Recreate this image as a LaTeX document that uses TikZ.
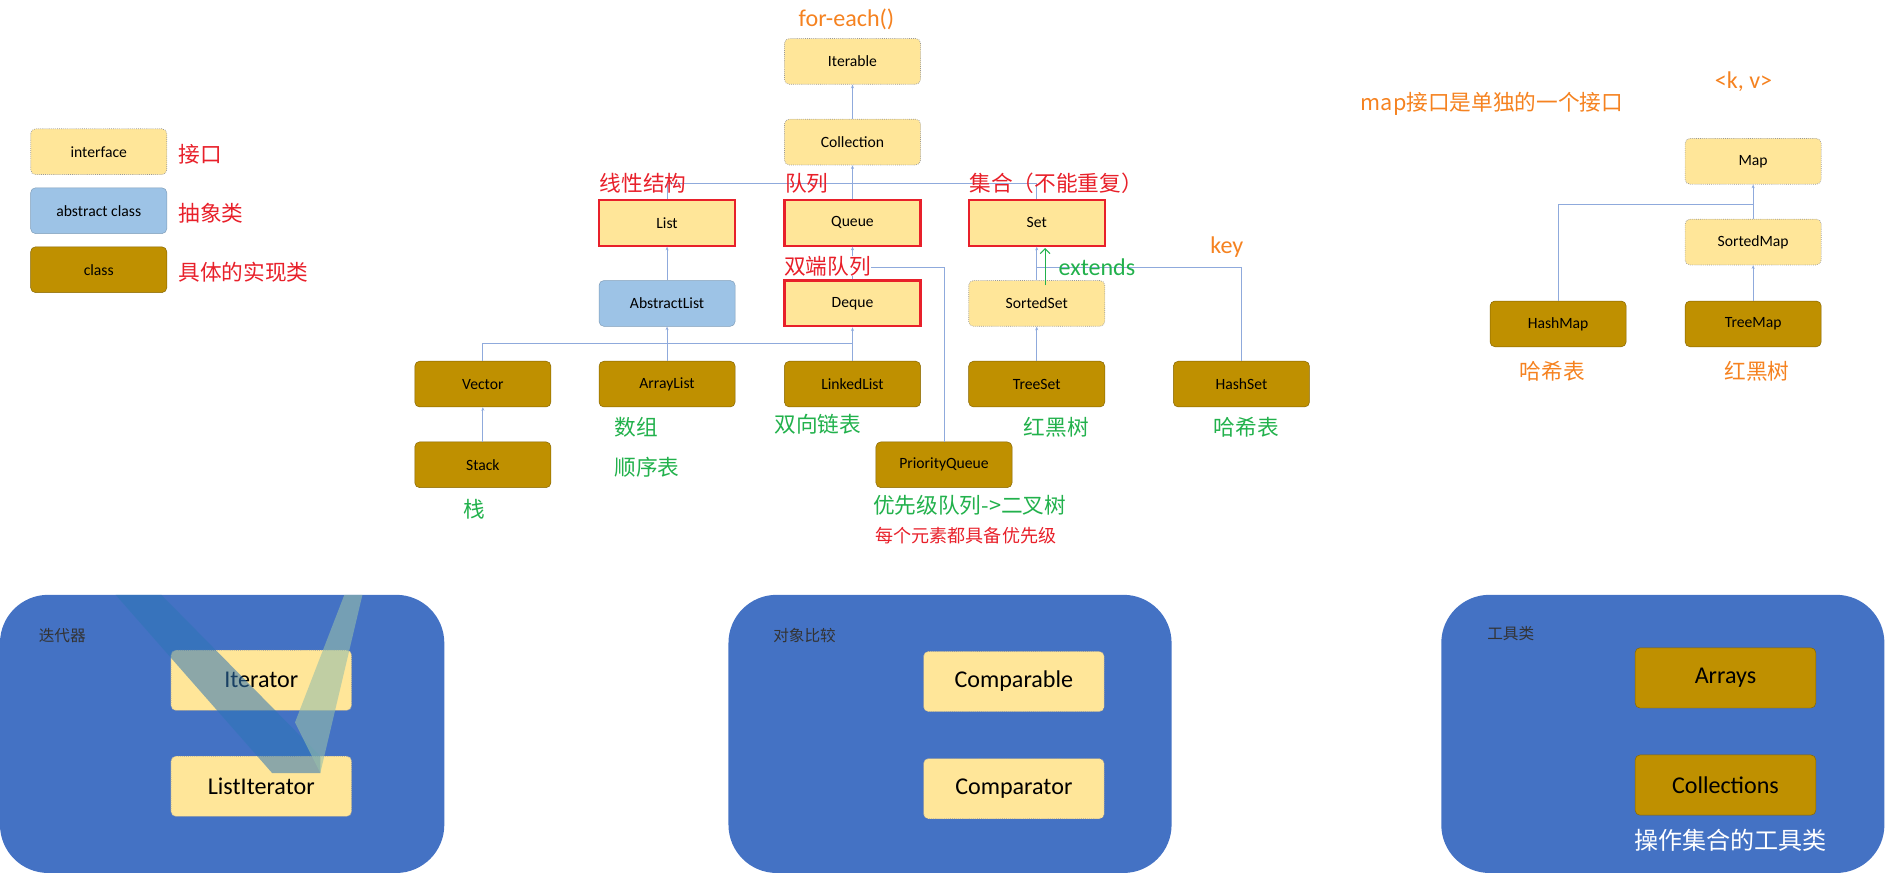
\documentclass[tikz,border=0pt]{standalone}
\usepackage{fontspec}
\setmainfont{Carlito}
\newfontfamily\cjk{Noto Sans CJK SC}
\usetikzlibrary{arrows.meta}
\definecolor{ifill}{HTML}{FFE699}
\definecolor{cfill}{HTML}{BF9000}
\definecolor{afill}{HTML}{9DC3E6}
\definecolor{lcol}{HTML}{8FAADC}
\definecolor{pblue}{HTML}{4472C4}
\definecolor{zred}{HTML}{E8202A}
\definecolor{zgreen}{HTML}{22B14C}
\definecolor{zorange}{HTML}{F58220}
\begin{document}
\begin{tikzpicture}[x=1pt,y=-1pt,
 box/.style={minimum width=113pt,minimum height=38pt,inner sep=0pt,rounded corners=4pt,font=\fontsize{13}{15}\selectfont},
 intf/.style={box,fill=ifill,draw=gray!80,densely dotted,line width=0.6pt},
 cls/.style={box,fill=cfill,draw=cfill!70!black},
 abst/.style={box,fill=afill,draw=afill!80!black},
 redb/.style={box,fill=ifill,draw=zred,line width=1.8pt,rounded corners=0pt},
 big/.style={minimum width=150pt,minimum height=50pt,font=\fontsize{20}{22}\selectfont},
 conn/.style={draw=lcol,line width=0.7pt},
 arr/.style={conn,-{Stealth[length=3pt,width=2.5pt]}},
 zh/.style={font=\cjk\fontsize{#1}{#1}\selectfont,inner sep=0pt,anchor=west},
 lat/.style={font=\fontsize{#1}{#1}\selectfont,inner sep=0pt}]
\useasboundingbox (0,0) rectangle (1568,727);
% legend
\node[intf] (lgi) at (82,126) {interface};
\node[abst] (lga) at (82,175) {abstract class};
\node[cls] (lgc) at (82,224) {class};
\node[zh=18,text=zred] (t1) at (148,128) {接口};
\node[zh=18,text=zred] (t2) at (148,177) {抽象类};
\node[zh=18,text=zred] (t3) at (148,226) {具体的实现类};
% collection tree
\node[intf] (Iterable) at (708,51) {Iterable};
\node[intf] (Collection) at (708,118) {Collection};
\node[redb] (List) at (554,185) {List};
\node[redb] (Queue) at (708,185) {Queue};
\node[redb] (Set) at (861,185) {Set};
\node[abst] (AbstractList) at (554,252) {AbstractList};
\node[redb] (Deque) at (708,252) {Deque};
\node[intf] (SortedSet) at (861,252) {SortedSet};
\node[cls] (Vector) at (401,319) {Vector};
\node[cls] (ArrayList) at (554,319) {ArrayList};
\node[cls] (LinkedList) at (708,319) {LinkedList};
\node[cls] (TreeSet) at (861,319) {TreeSet};
\node[cls] (HashSet) at (1031,319) {HashSet};
\node[cls] (Stack) at (401,386) {Stack};
\node[cls] (PriorityQueue) at (784,386) {PriorityQueue};
% connectors
\draw[arr] (Collection.north) -- (Iterable.south);
\draw[arr] (Queue.north) -- (Collection.south);
\draw[conn] (List.north) -- (List.north |- 0,152) -- (Set.north |- 0,152) -- (Set.north);
\draw[arr] (AbstractList.north) -- (List.south);
\draw[arr] (Deque.north) -- (Queue.south);
\draw[conn] (PriorityQueue.north) -- (PriorityQueue.north |- 0,222) -- (Queue.south |- 0,222);
\draw[arr] (SortedSet.north) -- (Set.south);
\draw[conn] (HashSet.north) -- (HashSet.north |- 0,222) -- (Set.south |- 0,222);
\draw[arr] (ArrayList.north) -- (AbstractList.south);
\draw[conn] (Vector.north) -- (Vector.north |- 0,285) -- (LinkedList.north |- 0,285);
\draw[arr] (LinkedList.north) -- (Deque.south);
\draw[arr] (TreeSet.north) -- (SortedSet.south);
\draw[arr] (Stack.north) -- (Vector.south);
% labels
\node[lat=20,text=zorange] (fe) at (703,16) {for-each()};
\node[zh=18,text=zred] (l1) at (498,152) {线性结构};
\node[zh=18,text=zred] (l2) at (652,152) {队列};
\node[zh=18,text=zred] (l3) at (805,152) {集合（不能重复）};
\node[fill=white,inner sep=1pt,zh=18,text=zred] (l4) at (651,221) {双端队列};
\node[lat=20,text=zorange,anchor=west] (key) at (1005,205) {key};
\node[lat=20,text=zgreen,anchor=west] (ext) at (879,222) {extends};
\coordinate (ea) at (868,237);
\coordinate (eb) at (868,206);
\draw[zgreen,line width=0.9pt,-{Straight Barb[length=4pt]}] (ea) -- (eb);
\node[zh=18,text=zgreen] (g1) at (510,355) {数组};
\node[zh=18,text=zgreen] (g2) at (510,388) {顺序表};
\node[zh=18,text=zgreen] (g3) at (643,352) {双向链表};
\node[zh=18,text=zgreen] (g4) at (850,355) {红黑树};
\node[zh=18,text=zgreen] (g5) at (1008,355) {哈希表};
\node[zh=18,text=zgreen] (g6) at (385,423) {栈};
\node[zh=18,text=zgreen] (g7) at (725,420) {优先级队列->二叉树};
\node[zh=15,text=zred] (g8) at (727,445) {每个元素都具备优先级};
% map
\node[lat=20,text=zorange] (kv) at (1448,68) {<k, v>};
\node[zh=18,text=zorange] (ml) at (1130,86) {map接口是单独的一个接口};
\node[intf] (Map) at (1456,134) {Map};
\node[intf] (SortedMap) at (1456,201) {SortedMap};
\node[cls] (HashMap) at (1294,269) {HashMap};
\node[cls] (TreeMap) at (1456,269) {TreeMap};
\draw[arr] (SortedMap.north) -- (Map.south);
\draw[conn] (HashMap.north) -- (HashMap.north |- 0,170) -- (SortedMap.north |- 0,170);
\draw[arr] (TreeMap.north) -- (SortedMap.south);
\node[zh=18,text=zorange] (h1) at (1262,308) {哈希表};
\node[zh=18,text=zorange] (h2) at (1432,308) {红黑树};
% panels
\fill[pblue,rounded corners=40pt] (0,494) rectangle (369,725);
\fill[pblue,rounded corners=40pt] (605,494) rectangle (973,725);
\fill[pblue,rounded corners=40pt] (1197,494) rectangle (1565,725);
\node[zh=13,text=black!80] (p1) at (32,528) {迭代器};
\node[zh=13,text=black!80] (p2) at (642,528) {对象比较};
\node[zh=13,text=black!80] (p3) at (1235,526) {工具类};
\node[intf,big] (Iterator) at (217,565) {Iterator};
\node[intf,big] (ListIterator) at (217,653) {ListIterator};
\node[intf,big] (Comparable) at (842,566) {Comparable};
\node[intf,big] (Comparator) at (842,655) {Comparator};
\node[cls,big] (Arrays) at (1433,563) {Arrays};
\node[cls,big] (Collections) at (1433,652) {Collections};
\node[zh=20,text=white] (p4) at (1357,698) {操作集合的工具类};
% translucent V on panel 1
\fill[fill={rgb,255:red,46;green,117;blue,182},opacity=0.55] (96,494) -- (134,494) -- (266,628) -- (266,642) -- (226,642) -- cycle;
\fill[fill={rgb,255:red,150;green,190;blue,170},opacity=0.6] (286,494) -- (301,494) -- (266,642) -- (245,600) -- cycle;
\end{tikzpicture}
\end{document}
